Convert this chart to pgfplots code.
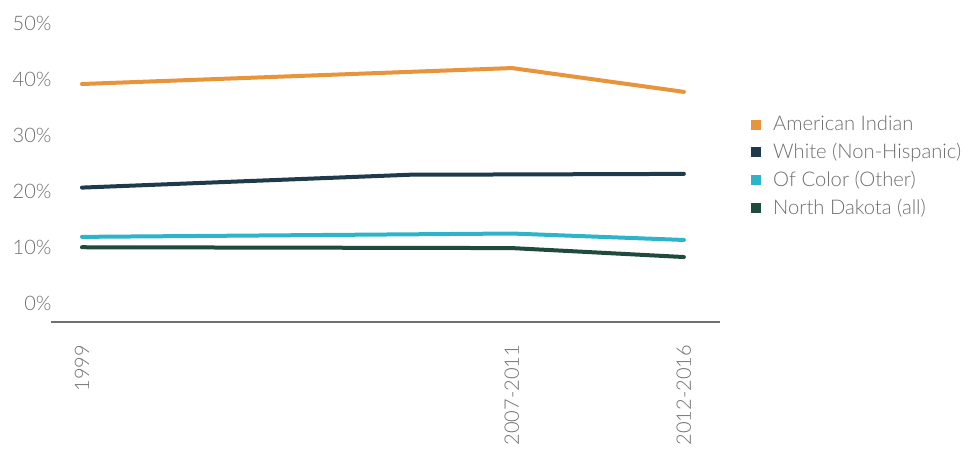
\documentclass[border=0pt]{standalone}
\usepackage{pgfplots}
\pgfplotsset{compat=1.18}
\usepackage{fontspec}
\setmainfont{Lato}[UprightFont=* Light]
\definecolor{cOrange}{HTML}{E8943A}
\definecolor{cNavy}{HTML}{1F3A4A}
\definecolor{cCyan}{HTML}{2DB4C8}
\definecolor{cGreen}{HTML}{1F4A3E}
\definecolor{cText}{HTML}{6E6E6E}
\definecolor{cAxis}{HTML}{707070}
\begin{document}
\begin{tikzpicture}
\begin{axis}[
  scale only axis,
  width=334.5pt, height=149.5pt,
  xmin=-0.72, xmax=14.84,
  ymin=-3.4, ymax=50,
  axis x line*=bottom,
  axis y line*=left,
  y axis line style={draw=none},
  x axis line style={draw=cAxis, line width=0.6pt, -},
  xtick={0,10,14},
  xticklabels={1999,2007-2011,2012-2016},
  major tick length=0pt,
  ytick={0,10,20,30,40,50},
  yticklabel={\pgfmathprintnumber{\tick}\%},
  /pgf/number format/assume math mode=true,
  ticklabel style={font=\fontsize{10}{12}\selectfont, text=cText},
  xticklabel style={rotate=90, anchor=east},
  xticklabel shift=8pt,
  yticklabel style={anchor=east, xshift=3.8pt},
  clip=false,
  legend style={draw=none, fill=none, at={(1.046,0.704)}, anchor=north west,
    font=\fontsize{10.1}{12}\selectfont, text=cText,
    row sep=0.7pt, inner sep=0pt, nodes={inner xsep=1pt}},
  legend cell align=left,
  legend image code/.code={\fill[#1, draw=none] (0pt,-2.4pt) rectangle (4.8pt,2.4pt); \path[draw=none, fill=none] (0pt,0pt) -- (10pt,0pt);},
  every axis plot/.append style={line width=2pt, line join=round, line cap=round},
]
\addplot[color=cOrange] coordinates {(0,39.1) (10,41.95) (14,37.7)};
\addlegendentry{American Indian}
\addplot[color=cNavy] coordinates {(0,20.6) (7.63,22.9) (10,22.95) (14,23.05)};
\addlegendentry{White (Non-Hispanic)}
\addplot[color=cCyan] coordinates {(0,11.8) (10,12.4) (14,11.25)};
\addlegendentry{Of Color (Other)}
\addplot[color=cGreen] coordinates {(0,9.95) (10,9.8) (14,8.2)};
\addlegendentry{North Dakota (all)}
\end{axis}
\path (current axis.south west) ++(-25.5pt,-65.5pt) rectangle ++(484pt,226.5pt);
\end{tikzpicture}
\end{document}
